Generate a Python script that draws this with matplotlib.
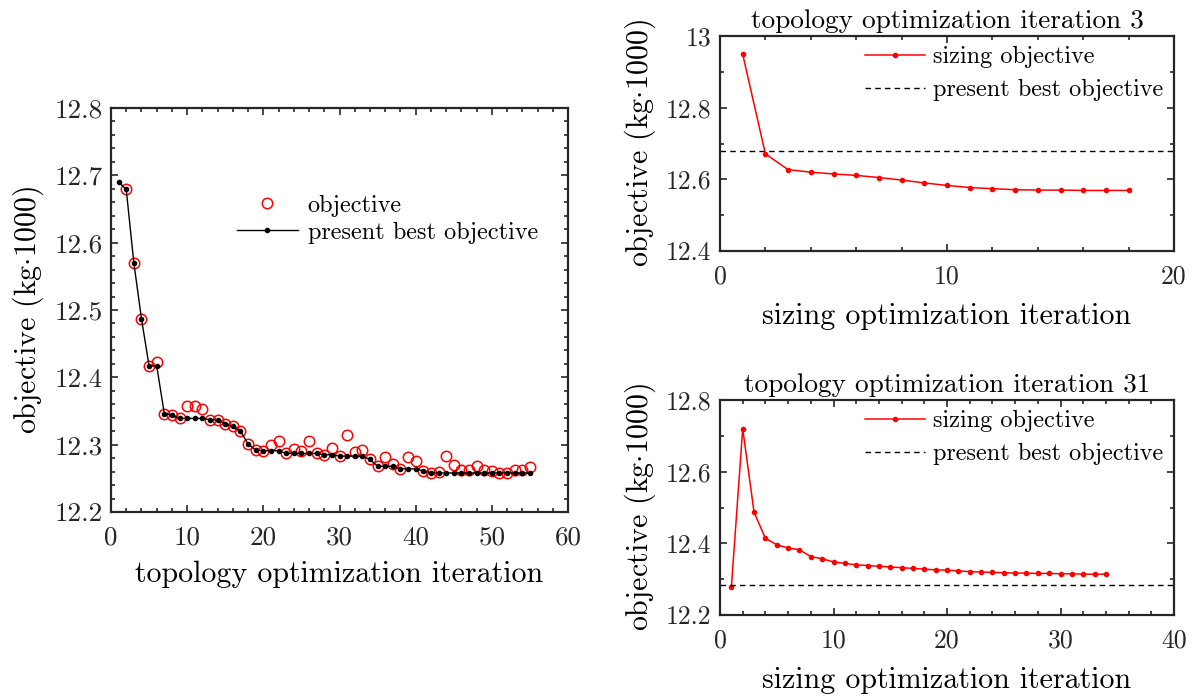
import numpy as np
from matplotlib import pyplot as plt
from matplotlib.ticker import MultipleLocator, FuncFormatter

plt.rcParams['font.family'] = 'serif'
plt.rcParams['font.serif'] = ['cmr10']
plt.rcParams['mathtext.fontset'] = 'cm'
plt.rcParams['axes.formatter.use_mathtext'] = True

# topology optimization history
topo_iter = list(range(2, 56))
topo_obj = [12.679, 12.570, 12.487, 12.417, 12.423, 12.346, 12.344, 12.339, 12.358,
            12.358, 12.353, 12.337, 12.337, 12.331, 12.327, 12.320, 12.301, 12.292,
            12.291, 12.299, 12.306, 12.287, 12.293, 12.291, 12.306, 12.287, 12.285,
            12.295, 12.283, 12.314, 12.289, 12.292, 12.278, 12.268, 12.281, 12.271,
            12.264, 12.282, 12.276, 12.261, 12.258, 12.259, 12.283, 12.270, 12.263,
            12.263, 12.269, 12.263, 12.261, 12.258, 12.258, 12.263, 12.262, 12.267]
best_iter = list(range(1, 56))
best_obj = [12.690, 12.679, 12.570, 12.487, 12.417, 12.417, 12.346, 12.344, 12.339,
            12.339, 12.339, 12.339, 12.337, 12.337, 12.331, 12.327, 12.320, 12.301,
            12.292, 12.291, 12.291, 12.291, 12.287, 12.287, 12.287, 12.287, 12.287,
            12.285, 12.285, 12.283, 12.283, 12.283, 12.283, 12.278, 12.268, 12.268,
            12.268, 12.264, 12.264, 12.264, 12.261, 12.258, 12.258, 12.258, 12.258,
            12.258, 12.258, 12.258, 12.258, 12.258, 12.258, 12.258, 12.258, 12.258,
            12.258]

# sizing optimization at topology iteration 3
size3 = [12.949, 12.671, 12.627, 12.620, 12.615, 12.611, 12.605, 12.598, 12.590,
         12.583, 12.577, 12.574, 12.571, 12.570, 12.570, 12.569, 12.569, 12.569]
best3 = 12.680

# sizing optimization at topology iteration 31
size31 = [12.277, 12.720, 12.487, 12.414, 12.396, 12.387, 12.382, 12.363, 12.357,
          12.348, 12.344, 12.340, 12.338, 12.336, 12.334, 12.332, 12.330, 12.328,
          12.326, 12.325, 12.323, 12.321, 12.320, 12.319, 12.318, 12.317, 12.317,
          12.316, 12.316, 12.315, 12.315, 12.314, 12.314, 12.314]
best31 = 12.285

spine_col = '#262626'
fmt = FuncFormatter(lambda v, p: '%g' % round(v, 3))


def style_axes(ax, xmaj, xmin, ymaj, ymin, fs):
    ax.xaxis.set_major_locator(MultipleLocator(xmaj))
    ax.xaxis.set_minor_locator(MultipleLocator(xmin))
    ax.yaxis.set_major_locator(MultipleLocator(ymaj))
    ax.yaxis.set_minor_locator(MultipleLocator(ymin))
    ax.yaxis.set_major_formatter(fmt)
    ax.xaxis.set_major_formatter(fmt)
    ax.tick_params(which='both', direction='in', top=True, right=True,
                   colors=spine_col, width=1.2, labelsize=fs, labelcolor='#262626')
    ax.tick_params(which='major', length=5)
    ax.tick_params(which='minor', length=3)
    ax.tick_params(axis='x', which='major', pad=10)
    ax.tick_params(axis='y', which='major', pad=6)
    for s in ax.spines.values():
        s.set_color(spine_col)
        s.set_linewidth(1.6)


fig = plt.figure(figsize=(11.99, 6.98), dpi=100)

# left: topology optimization history
ax1 = fig.add_axes([111 / 1199, 1 - 512 / 698, 457 / 1199, 404 / 698])
ax1.plot(topo_iter, topo_obj, 'o', mfc='none', mec='red', ms=7.5, mew=1.1,
         label='objective', zorder=2)
ax1.plot(best_iter, best_obj, '-', color='black', lw=1.0, marker='.', ms=6,
         label='present best objective', zorder=3)
ax1.set_xlim(0, 60)
ax1.set_ylim(12.2, 12.8)
style_axes(ax1, 10, 2, 0.1, 0.02, 19.5)
ax1.set_xlabel('topology optimization iteration', fontsize=21.6, labelpad=8)
ax1.set_ylabel(r'objective (kg$\cdot$1000)', fontsize=21.6, labelpad=6)
ax1.legend(loc='center', bbox_to_anchor=(0.605, 0.725), frameon=False,
           fontsize=17.5, handlelength=2.5, handletextpad=0.4, labelspacing=0.2)

# top right: topology iteration 3
ax2 = fig.add_axes([720 / 1199, 1 - 251 / 698, 454 / 1199, 215 / 698])
ax2.plot(range(1, len(size3) + 1), size3, '-', color='red', lw=1.1, marker='.',
         ms=6, label='sizing objective')
ax2.axhline(best3, color='black', ls='--', lw=1.0, dashes=(4, 3),
            label='present best objective')
ax2.set_xlim(0, 20)
ax2.set_ylim(12.4, 13.0)
style_axes(ax2, 10, 2, 0.2, 0.1, 18.5)
ax2.set_title('topology optimization iteration 3', fontsize=19.6, pad=6)
ax2.set_xlabel('sizing optimization iteration', fontsize=21.6, labelpad=10)
ax2.set_ylabel(r'objective (kg$\cdot$1000)', fontsize=21.6, labelpad=6)
ax2.legend(loc='upper right', bbox_to_anchor=(1.024, 1.055), frameon=False,
           fontsize=17.5, handlelength=2.5, handletextpad=0.3, labelspacing=0.45)

# bottom right: topology iteration 31
ax3 = fig.add_axes([720 / 1199, 1 - 615 / 698, 454 / 1199, 215 / 698])
ax3.plot(range(1, len(size31) + 1), size31, '-', color='red', lw=1.1, marker='.',
         ms=6, label='sizing objective')
ax3.axhline(best31, color='black', ls='--', lw=1.0, dashes=(4, 3),
            label='present best objective')
ax3.set_xlim(0, 40)
ax3.set_ylim(12.2, 12.8)
style_axes(ax3, 10, 2, 0.2, 0.1, 18.5)
ax3.set_title('topology optimization iteration 31', fontsize=19.6, pad=6)
ax3.set_xlabel('sizing optimization iteration', fontsize=21.6, labelpad=10)
ax3.set_ylabel(r'objective (kg$\cdot$1000)', fontsize=21.6, labelpad=6)
ax3.legend(loc='upper right', bbox_to_anchor=(1.024, 1.055), frameon=False,
           fontsize=17.5, handlelength=2.5, handletextpad=0.3, labelspacing=0.45)

fig.savefig('out.png', dpi=100)
